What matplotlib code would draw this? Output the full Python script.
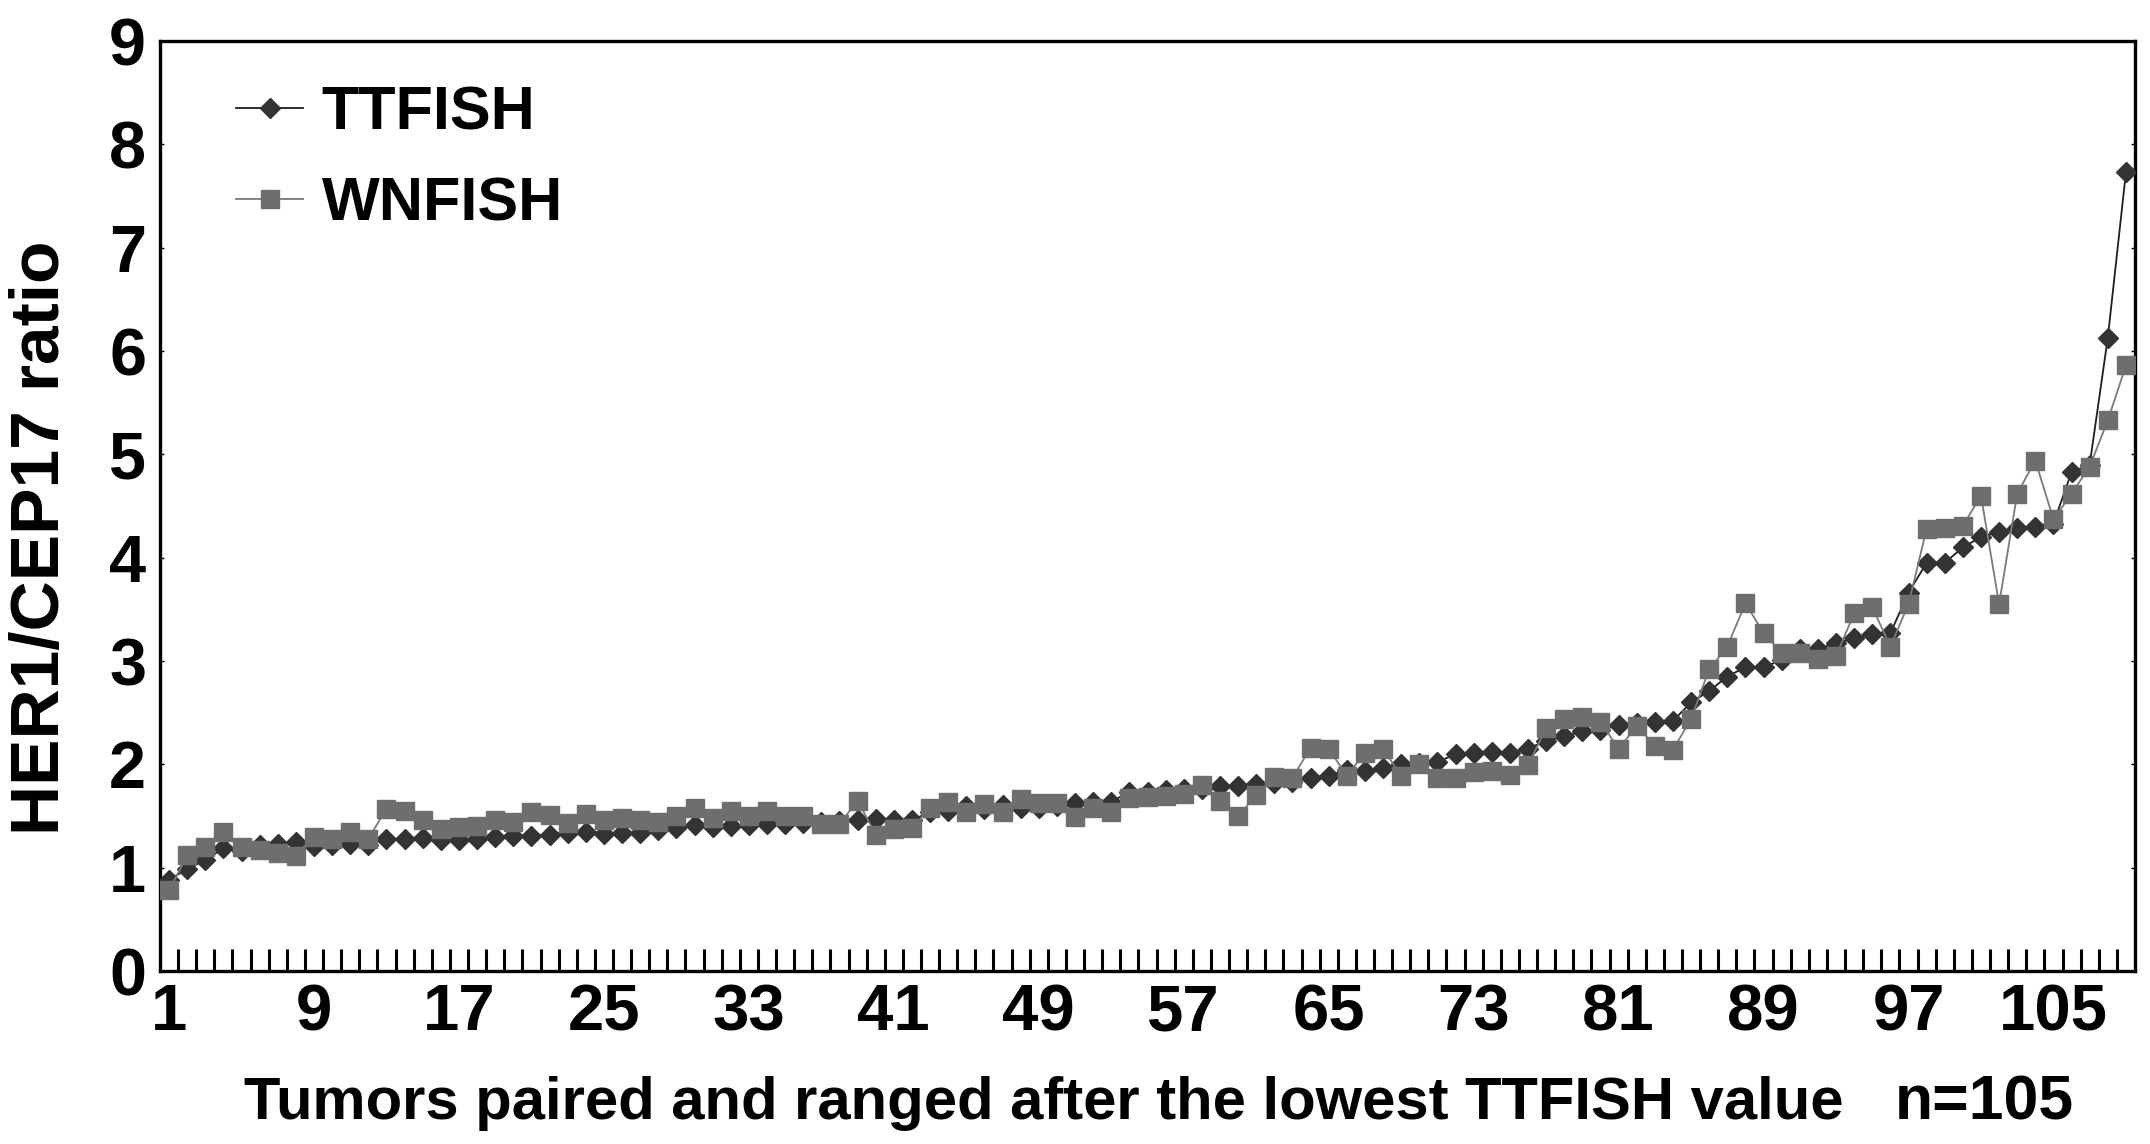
import matplotlib
matplotlib.use('Agg')
import matplotlib.pyplot as plt
import numpy as np

# HER1/CEP17 ratio per tumour, ordered by TTFISH value
ttfish = [0.88, 0.99, 1.07, 1.19, 1.16, 1.22, 1.23, 1.25, 1.21, 1.22,
          1.23, 1.22, 1.28, 1.28, 1.29, 1.27, 1.27, 1.28, 1.30, 1.31,
          1.31, 1.32, 1.34, 1.35, 1.33, 1.34, 1.34, 1.36, 1.38, 1.41,
          1.39, 1.40, 1.41, 1.42, 1.42, 1.43, 1.44, 1.45, 1.46, 1.47,
          1.46, 1.46, 1.54, 1.55, 1.60, 1.57, 1.61, 1.58, 1.58, 1.60,
          1.63, 1.64, 1.64, 1.73, 1.73, 1.75, 1.76, 1.76, 1.79, 1.79,
          1.81, 1.82, 1.83, 1.87, 1.89, 1.95, 1.94, 1.96, 2.00, 2.01,
          2.02, 2.10, 2.11, 2.12, 2.11, 2.15, 2.23, 2.27, 2.32, 2.33,
          2.38, 2.40, 2.41, 2.42, 2.60, 2.71, 2.85, 2.94, 2.94, 3.01,
          3.12, 3.12, 3.17, 3.22, 3.26, 3.27, 3.66, 3.95, 3.95, 4.10,
          4.20, 4.25, 4.29, 4.30, 4.33, 4.83, 4.90, 6.13, 7.73]

wnfish = [0.78, 1.12, 1.20, 1.35, 1.20, 1.17, 1.14, 1.11, 1.30, 1.28,
          1.35, 1.28, 1.57, 1.55, 1.46, 1.37, 1.39, 1.40, 1.46, 1.44,
          1.54, 1.51, 1.43, 1.52, 1.46, 1.48, 1.46, 1.44, 1.50, 1.58,
          1.48, 1.55, 1.50, 1.55, 1.50, 1.50, 1.42, 1.42, 1.65, 1.32,
          1.37, 1.38, 1.58, 1.64, 1.54, 1.62, 1.54, 1.66, 1.63, 1.63,
          1.49, 1.58, 1.54, 1.67, 1.68, 1.69, 1.71, 1.80, 1.65, 1.50,
          1.70, 1.88, 1.87, 2.16, 2.15, 1.89, 2.11, 2.15, 1.89, 2.00,
          1.87, 1.87, 1.93, 1.94, 1.90, 1.99, 2.35, 2.44, 2.46, 2.41,
          2.15, 2.37, 2.18, 2.14, 2.44, 2.92, 3.14, 3.56, 3.27, 3.08,
          3.08, 3.02, 3.05, 3.46, 3.52, 3.14, 3.55, 4.28, 4.29, 4.31,
          4.60, 3.55, 4.62, 4.94, 4.37, 4.62, 4.88, 5.33, 5.86]

x_tick_labels = [1, 9, 17, 25, 33, 41, 49, 57, 65, 73, 81, 89, 97, 105]
y_ticks = list(range(10))

plt.rcParams['font.family'] = ['Liberation Sans', 'DejaVu Sans']
plt.rcParams['font.weight'] = 'bold'

W, H = 2150, 1144
fig = plt.figure(figsize=(W / 100, H / 100), dpi=100)
ax = fig.add_axes([160 / W, 1 - 971 / H, (2135 - 160) / W, (971 - 41) / H])

x = np.arange(1, len(ttfish) + 1)
ax.plot(x, ttfish, color='#1e1e1e', lw=1.3, marker='D', ms=10,
        mfc='#333333', mec='#333333', label='TTFISH', zorder=3)
ax.plot(x, wnfish, color='#7a7a7a', lw=1.3, marker='s', ms=12.5,
        mfc='#6e6e6e', mec='#6e6e6e', label='WNFISH', zorder=4)

ax.set_xlim(0.5, len(x) + 0.5)
ax.set_ylim(0, 9)

ax.set_xticks(x_tick_labels)
ax.set_xticklabels([str(v) for v in x_tick_labels])
ax.set_xticks(np.arange(1.5, len(x)), minor=True)
ax.tick_params(axis='x', which='major', length=0, pad=9, labelsize=47)
ax.tick_params(axis='x', which='minor', direction='in', length=16, width=2.2)

ax.set_yticks(y_ticks)
ax.tick_params(axis='y', direction='in', length=3, width=1, labelsize=48,
               pad=10, right=True)

for sp in ax.spines.values():
    sp.set_linewidth(2.4)

fig.text(41 / W, 1 - 538 / H, 'HER1/CEP17 ratio', rotation=90,
         ha='center', va='center', fontsize=50)
fig.text(244 / W, 1 - 1119 / H,
         'Tumors paired and ranged after the lowest TTFISH value',
         ha='left', va='baseline', fontsize=43)
fig.text(1895 / W, 1 - 1119 / H, 'n=105', ha='left', va='baseline', fontsize=45)

ax.legend(loc='upper left', bbox_to_anchor=(236 / W, 1 - 85 / H),
          bbox_transform=fig.transFigure, frameon=False, fontsize=44,
          handlelength=1.1, handletextpad=0.3, labelspacing=0.56,
          borderpad=0, borderaxespad=0)

fig.savefig('out.png', dpi=100)
